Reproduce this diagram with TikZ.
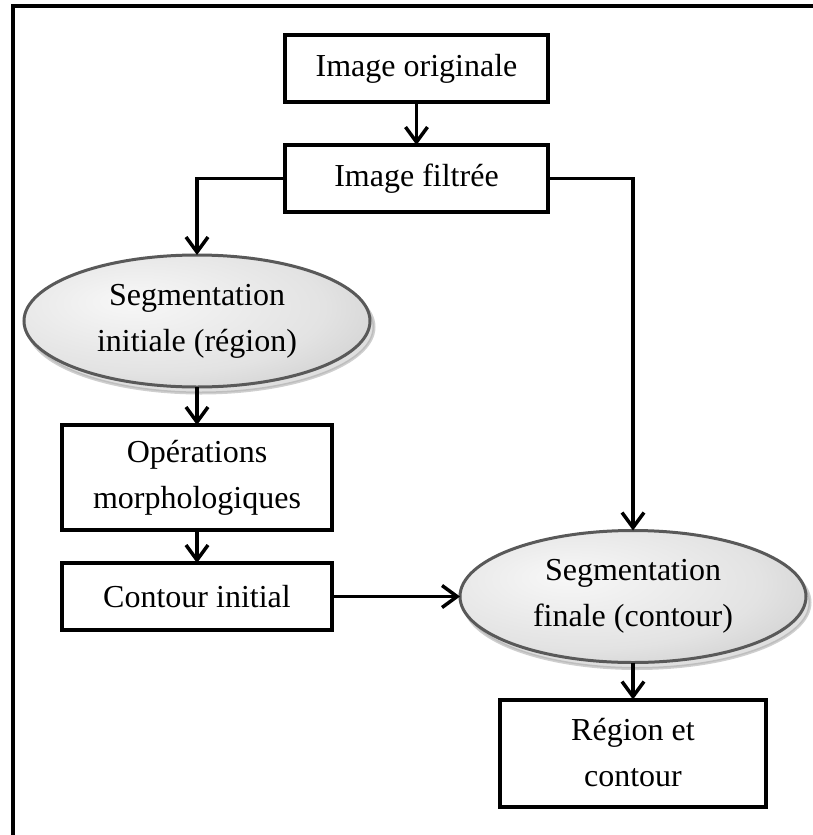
\documentclass[tikz,border=0pt]{standalone}
\usepackage{fontspec}
\setmainfont{Liberation Serif}
\usetikzlibrary{positioning,shapes.geometric,arrows.meta,shadows}

% light grey fill of the two segmentation steps
\pgfdeclareradialshading{segshade}{\pgfpoint{-10bp}{8bp}}{%
  color(0bp)=(gray!6); color(25bp)=(gray!22); color(50bp)=(gray!55); color(72bp)=(gray!55)}

\begin{document}
\begin{tikzpicture}[
  x=1pt, y=-1pt,
  node distance=40pt and 40pt,
  every node/.style={font=\fontsize{32}{46}\selectfont, align=center, outer sep=0pt},
  box/.style={draw, line width=4pt, inner sep=0pt},
  seg/.style={ellipse, draw=gray!70!black, line width=3pt, shade, shading=segshade,
    minimum width=346pt, minimum height=132pt, inner sep=0pt,
    drop shadow={shadow xshift=4pt, shadow yshift=-6pt, fill=gray!50, draw=gray!75}},
  arr/.style={line width=3.5pt, -{Straight Barb[length=15pt,width=22pt]}}
]
\useasboundingbox (0,0) rectangle (812,835);
% outer frame
\draw[line width=4pt] (13,6) rectangle (830,850);

\node[box, minimum width=263pt, minimum height=67pt] (orig) at (416.5,68.5) {Image originale};
\node[box, minimum width=263pt, minimum height=67pt, below=43pt of orig] (filt) {Image filtrée};
\node[seg] (segini) at (197,321) {Segmentation\\initiale (région)};
\node[box, minimum width=270pt, minimum height=105pt, below=38pt of segini] (morph) {Opérations\\morphologiques};
\node[box, minimum width=270pt, minimum height=67pt, below=33pt of morph] (cinit) {Contour initial};
\node[seg] (segfin) at (633,596.5) {Segmentation\\finale (contour)};
\node[box, minimum width=266pt, minimum height=107pt, below=37pt of segfin] (res) {Région et\\contour};

\draw[arr] (orig) -- (filt);
\draw[arr] (filt.west) -| (segini.north);
\draw[arr] (filt.east) -| (segfin.north);
\draw[arr] (segini) -- (morph);
\draw[arr] (morph) -- (cinit);
\draw[arr] (cinit.east) -- (segfin.west);
\draw[arr] (segfin) -- (res);
\end{tikzpicture}
\end{document}
